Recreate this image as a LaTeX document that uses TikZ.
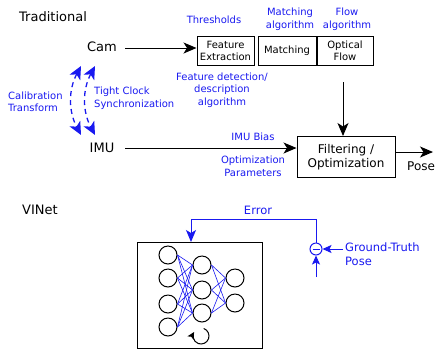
\documentclass[tikz,border=0pt]{standalone}
\usepackage{fontspec}
\setmainfont{DejaVu Sans}
\usetikzlibrary{arrows.meta}
\definecolor{lblue}{RGB}{25,25,240}

\tikzset{
  lbl/.style={text=lblue, font=\fontsize{10}{12.5}\selectfont, align=center, inner sep=0pt},
  big/.style={font=\fontsize{13}{15}\selectfont, inner sep=0pt},
  stage/.style={draw, line width=1pt, minimum height=29pt, font=\fontsize{10}{12}\selectfont, align=center, inner sep=1pt},
  flowarr/.style={-{Stealth[length=13pt,width=11pt,inset=3.5pt]}, line width=1pt},
  calib/.style={{Stealth[length=13pt,width=12pt,inset=3.5pt]}-{Stealth[length=13pt,width=12pt,inset=3.5pt]}, lblue, line width=1.3pt, dash pattern=on 5pt off 4pt},
  fbarr/.style={-{Stealth[length=9pt,width=8pt,inset=2pt]}, lblue, line width=1pt},
  neuron/.style={circle, draw, line width=1pt, minimum size=18pt, inner sep=0pt},
  syn/.style={lblue, line width=0.6pt}
}

\begin{document}
\begin{tikzpicture}[x=1pt,y=-1pt]
\useasboundingbox (0,0) rectangle (438,349);

% traditional pipeline
\node[big, anchor=west] (trad) at (19,17) {Traditional};
\node[big] (cam) at (102,47) {Cam};
\node[big] (imu) at (102,148) {IMU};

\node[stage, minimum width=57pt] (feat) at (225.5,50.5) {Feature\\Extraction};
\node[stage, minimum width=58pt] (match) at (287,50.5) {Matching};
\node[stage, minimum width=56pt] (flow) at (345,50.5) {Optical\\Flow};
\node[draw, line width=1pt, minimum width=98pt, minimum height=41pt, align=center,
      font=\fontsize{12}{14.5}\selectfont] (filt) at (346,157) {Filtering /\\Optimization};

\node[lbl] (thr) at (214,20) {Thresholds};
\node[lbl] (matchalg) at (290,19) {Matching\\algorithm};
\node[lbl] (flowalg) at (347,19) {Flow\\algorithm};
\node[lbl] (featalg) at (222,90) {Feature detection/\\description\\algorithm};
\node[lbl, align=left, anchor=west] (calibtf) at (8,102) {Calibration\\Transform};
\node[lbl, align=left, anchor=west] (clock) at (94,98) {Tight Clock\\Synchronization};
\node[lbl] (bias) at (253,137) {IMU Bias};
\node[lbl] (optpar) at (253,166.5) {Optimization\\Parameters};

\coordinate (camout) at (125,48);
\coordinate (imuout) at (125,148);
\coordinate (flowout) at (343,82);
\coordinate (poseend) at (433,152);
\draw[flowarr] (camout) -- (feat.west |- camout);
\draw[flowarr] (imuout) -- (filt.west |- imuout);
\draw[flowarr] (flowout) -- (flowout |- filt.north);
\draw[flowarr] (filt.east |- poseend) -- (poseend);
\node[big, font=\fontsize{12}{14}\selectfont, anchor=west] (pose) at (407,166) {Pose};

% calibration / sync
\coordinate (ca1) at (81,66);
\coordinate (ca2) at (81,135);
\coordinate (cb1) at (95,66);
\coordinate (cb2) at (95,135);
\draw[calib] (ca1) to[bend right=28] (ca2);
\draw[calib] (cb1) to[bend right=28] (cb2);

% VINet
\node[big, anchor=west] (vinet) at (22,210) {VINet};
\draw[line width=1pt] (137,242) rectangle (262,348);
\coordinate (nntop) at (191,242);

\foreach \y [count=\i] in {255,278,304,327}
  \node[neuron] (a\i) at (168,\y) {};
\foreach \y [count=\i] in {265,290,313}
  \node[neuron] (b\i) at (202,\y) {};
\foreach \y [count=\i] in {278,303}
  \node[neuron] (c\i) at (235,\y) {};
\foreach \i in {1,...,4}
  \foreach \j in {1,2,3}
    \draw[syn] (a\i.east) -- (b\j.west);
\foreach \j in {1,2,3}
  \foreach \k in {1,2}
    \draw[syn] (b\j.east) -- (c\k.west);

\coordinate (rec) at (201,336);
\draw[line width=1pt, -{Stealth[length=7pt,width=7pt,inset=1.5pt]}]
  ([shift={(70:8pt)}]rec) arc[start angle=70, end angle=-210, radius=8pt];

% error feedback
\node[circle, draw=lblue, line width=1pt, minimum size=12pt, inner sep=0pt] (sub) at (316,249) {};
\draw[lblue, line width=1pt] ([xshift=-3.5pt]sub.center) -- ([xshift=3.5pt]sub.center);
\coordinate (errturn) at (191,219);
\coordinate (gtin) at (343,249);
\coordinate (predin) at (316,277);
\draw[fbarr, -{Stealth[length=12pt,width=10pt,inset=3pt]}] (sub.north) |- (errturn) -- (nntop);
\draw[fbarr] (gtin) -- (sub.east);
\draw[fbarr] (predin) -- (sub.south);
\node[lbl, font=\fontsize{11.5}{14.5}\selectfont] (err) at (258,210) {Error};
\node[lbl, font=\fontsize{11.5}{14.5}\selectfont, align=left, anchor=west] (gt) at (345,254) {Ground-Truth\\Pose};
\end{tikzpicture}
\end{document}
